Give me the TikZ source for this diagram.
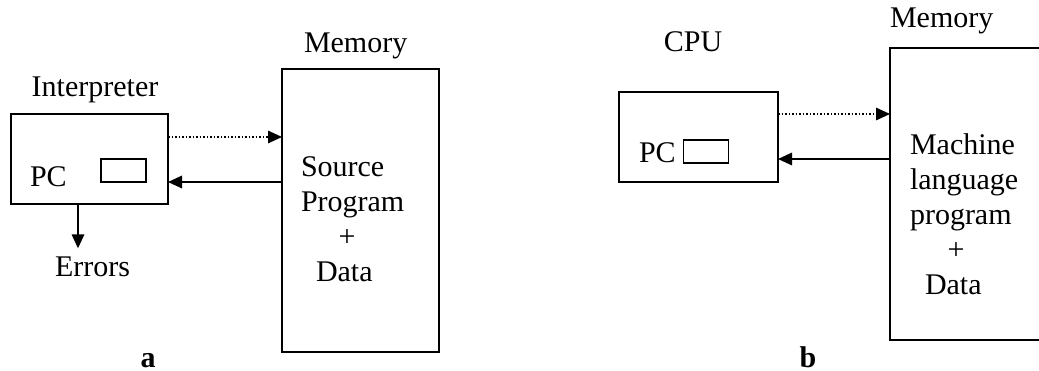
\documentclass[tikz,border=0pt]{standalone}
\usepackage{fontspec}
\setmainfont{Liberation Serif}
\usetikzlibrary{arrows.meta}

\begin{document}
\begin{tikzpicture}[x=0.4pt, y=-0.4pt,
    every node/.style={font=\fontsize{12}{14}\selectfont, inner sep=0pt, outer sep=0pt},
    unitbox/.style={draw, line width=0.7pt},
    regbox/.style={draw, line width=0.7pt, minimum width=18pt, minimum height=9.2pt},
    fetcharrow/.style={-{Triangle[length=5.6pt,width=5pt]}, line width=0.6pt, dash pattern=on 0.6pt off 0.8pt},
    readarrow/.style={-{Triangle[length=5.6pt,width=5pt]}, line width=0.7pt}
]
    \useasboundingbox (0,0) rectangle (1039,371);

    % a: interpreter
    \node[unitbox, minimum width=62.8pt, minimum height=36pt](Interp) at (89.5,159) {};
    \node[anchor=base](InterpLabel) at (95,97) {Interpreter};
    \node[anchor=base west](PCa) at (30,187) {PC};
    \node[regbox](RegA) at (123.5,170.5) {};
    \node[anchor=base west](Errors) at (55,277) {Errors};

    \node[unitbox, minimum width=62.8pt, minimum height=113.2pt](MemA) at (360.5,210.5) {};
    \node[anchor=base west](MemALabel) at (304,53) {Memory};
    \node[anchor=north west, align=left](SrcText) at (301,157)
        {Source\\Program\\\hspace*{15pt}+\\\hspace*{6pt}Data};

    \draw[fetcharrow] (Interp.east |- 0,137) -- (MemA.west |- 0,137);
    \draw[readarrow] (MemA.west |- 0,182) -- (Interp.east |- 0,182);
    \draw[readarrow] (Interp.south -| 78,0) -- ([yshift=3.6pt]Errors.north -| 78,0);
    \node[anchor=base, font=\fontsize{12}{14}\selectfont\bfseries](LabelA) at (148,368) {a};

    % b: cpu
    \node[unitbox, minimum width=63.6pt, minimum height=36pt](CPU) at (698.5,137) {};
    \node[anchor=base](CPULabel) at (693,52) {CPU};
    \node[anchor=base west](PCb) at (639,163) {PC};
    \node[regbox](RegB) at (706,151.5) {};

    \node[minimum width=62pt, minimum height=116.8pt](MemB) at (967.5,194) {};
    \draw[line width=0.7pt] (MemB.north east) -- (MemB.north west) -- (MemB.south west) -- (MemB.south east);
    \node[anchor=base west](MemBLabel) at (890,28) {Memory};
    \node[anchor=north west, align=left](MachText) at (910,134)
        {Machine\\language\\program\\\hspace*{15pt}+\\\hspace*{6pt}Data};

    \draw[fetcharrow] (CPU.east |- 0,114) -- (MemB.west |- 0,114);
    \draw[readarrow] (MemB.west |- 0,159) -- (CPU.east |- 0,159);
    \node[anchor=base, font=\fontsize{12}{14}\selectfont\bfseries](LabelB) at (808,368) {b};
\end{tikzpicture}
\end{document}
